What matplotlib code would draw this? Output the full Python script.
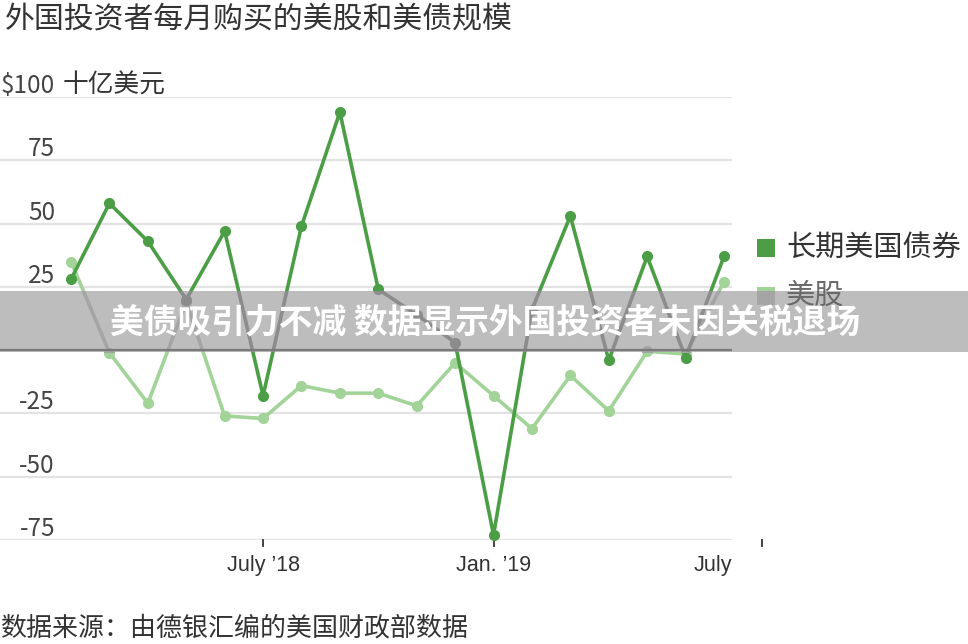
import numpy as np
import matplotlib
matplotlib.use('Agg')
import matplotlib.pyplot as plt
from matplotlib.patches import Rectangle

plt.rcParams['font.family'] = ['Noto Sans CJK SC', 'DejaVu Sans']

# monthly net purchases, Feb 2018 - Jul 2019 (US$ billions)
months = ['2018-02', '2018-03', '2018-04', '2018-05', '2018-06', '2018-07',
          '2018-08', '2018-09', '2018-10', '2018-11', '2018-12', '2019-01',
          '2019-02', '2019-03', '2019-04', '2019-05', '2019-06', '2019-07']
bonds = [28, 58, 43, 20, 47, -18, 49, 94, 24, 14, 3, -73, 16, 53, -4, 37, -3, 37]
stocks = [35, -1, -21, 19, -26, -27, -14, -17, -17, -22, -5, -18, -31, -10, -24, -0.5, -1.5, 27]

y_ticks = [100, 75, 50, 25, 0, -25, -50, -75]
y_tick_labels = ['$100', '75', '50', '25', '0', '-25', '-50', '-75']
x_tick_idx = [5, 11, 18]
x_tick_labels = ['July \u201918', 'Jan. \u201919', 'July']

series_names = ['长期美国债券', '美股']
dark_green = '#4b9e45'
light_green = '#a2d398'
text_col = '#333333'
latin = ['Liberation Sans', 'DejaVu Sans']

W, H = 968, 644
fig = plt.figure(figsize=(W / 100, H / 100), dpi=100)

x = np.arange(len(months))
rect = [0, (H - 540) / H, 732 / W, 443 / H]
xlim = (-71 / 38.4, len(months) - 1 + 8 / 38.4)
ylim = (-75, 100)

ax = fig.add_axes(rect, zorder=1)
ax.set_xlim(*xlim)
ax.set_ylim(*ylim)
for s in ax.spines.values():
    s.set_visible(False)
ax.set_xticks([])
ax.set_yticks([])
ax.patch.set_visible(False)

for v in y_ticks:
    if v != 0:
        ax.axhline(v, color='#e3e3e3', lw=1.6, zorder=0.5)
ax.axhline(0, color='#7a7a7a', lw=1.6, zorder=0.6)

for v, lab in zip(y_ticks, y_tick_labels):
    ax.annotate(lab, xy=(55 / 732, v), xycoords=('axes fraction', 'data'),
                xytext=(0, 4), textcoords='offset pixels', ha='right', va='baseline',
                fontsize=17.5, color='#444444')
ax.annotate('十亿美元', xy=(63 / 732, 100), xycoords=('axes fraction', 'data'),
            xytext=(0, 4), textcoords='offset pixels', ha='left', va='baseline',
            fontsize=18.5, color=text_col)

ax.plot(x, stocks, color=light_green, lw=2.6, marker='o', ms=7, zorder=2)
ax.plot(x, bonds, color=dark_green, lw=2.6, marker='o', ms=7, zorder=3)

# x ticks (the last one sits past the plot edge, as in the original)
xt = ax.get_xaxis_transform()
for i in x_tick_idx:
    ax.plot([i, i], [0, -6 / 443], transform=xt, clip_on=False, color=text_col, lw=1.3)
ax.text(x_tick_idx[0], -15 / 443, x_tick_labels[0], transform=xt, ha='center', va='top',
        fontsize=15.5, color=text_col, family=latin)
ax.text(x_tick_idx[1], -15 / 443, x_tick_labels[1], transform=xt, ha='center', va='top',
        fontsize=15.5, color=text_col, family=latin)
ax.text(xlim[1], -15 / 443, x_tick_labels[2], transform=xt, ha='right', va='top',
        fontsize=15.5, color=text_col, family=latin)

# title and source
fig.text(5 / W, 1 - 20 / H, '外国投资者每月购买的美股和美债规模', ha='left', va='center',
         fontsize=21.5, color=text_col)
fig.text(0 / W, 1 - 628 / H, '数据来源：由德银汇编的美国财政部数据', ha='left', va='center',
         fontsize=18.7, color=text_col)

# legend
leg_y = [248, 296]
leg_cols = [dark_green, light_green]
for c, yc in zip(leg_cols, leg_y):
    fig.patches.append(Rectangle((757 / W, 1 - (yc + 9) / H), 18 / W, 18 / H,
                                 transform=fig.transFigure, facecolor=c,
                                 edgecolor='none', zorder=1.5))
fig.text(786 / W, 1 - leg_y[0] / H, series_names[0], ha='left', va='center', fontsize=21,
         color=text_col, zorder=1.5)

# grey banner across the chart
banner = Rectangle((0, (H - 352) / H), 1, 61 / H, transform=fig.transFigure,
                   facecolor='#bdbdbd', edgecolor='none', zorder=2)
fig.add_artist(banner)

sw = Rectangle((757 / W, 1 - (leg_y[1] + 9) / H), 18 / W, 18 / H,
               transform=fig.transFigure, facecolor='#a5a5a5', edgecolor='none', zorder=2.5)
fig.add_artist(sw)
sw.set_clip_path(banner)
fig.text(786 / W, 1 - leg_y[1] / H, series_names[1], ha='left', va='center', fontsize=21,
         color='#6a6a6a', zorder=2.5)

ax2 = fig.add_axes(rect, zorder=3)
ax2.set_xlim(*xlim)
ax2.set_ylim(*ylim)
ax2.axis('off')
l1, = ax2.plot(x, stocks, color='#a5a5a5', lw=2.6, marker='o', ms=7)
l2, = ax2.plot(x, bonds, color='#8c8c8c', lw=2.6, marker='o', ms=7)
l1.set_clip_path(banner)
l2.set_clip_path(banner)
ax2.axhline(0, color='#7a7a7a', lw=1.6)

fig.text(485 / W, 1 - 322 / H, '美债吸引力不减 数据显示外国投资者未因关税退场',
         ha='center', va='center', fontsize=24.3, fontweight='bold', color='white', zorder=5)

fig.savefig('out.png', dpi=100)
